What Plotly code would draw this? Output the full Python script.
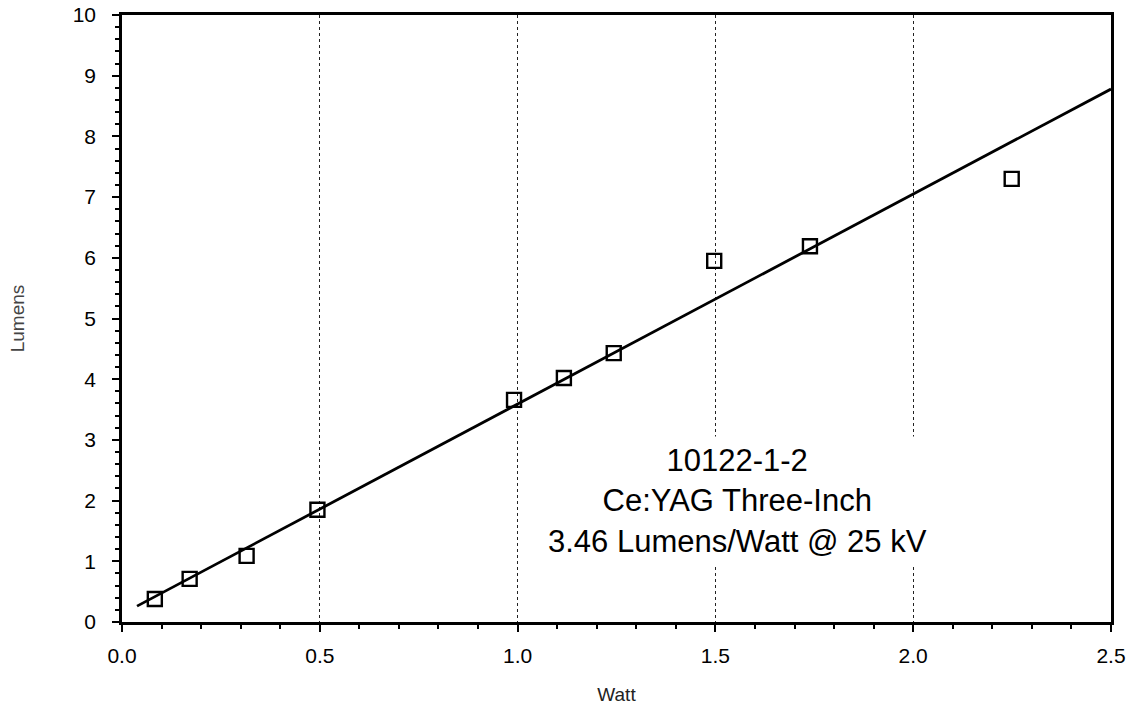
import plotly.graph_objects as go

# Measured light output versus input power
watts = [0.083, 0.171, 0.315, 0.494, 0.991, 1.117, 1.243, 1.497, 1.739, 2.249]
lumens = [0.38, 0.71, 1.09, 1.85, 3.66, 4.02, 4.43, 5.95, 6.19, 7.30]

# Linear fit: slope in lumens per watt
fit_slope = 3.46
fit_intercept = 0.13
fit_x = [0.038, 2.5]
fit_y = [fit_intercept + fit_slope * x for x in fit_x]

x_ticks = [0.0, 0.5, 1.0, 1.5, 2.0, 2.5]
y_ticks = list(range(0, 11))

font_family = "Liberation Sans, Arial, Helvetica, sans-serif"

fig = go.Figure()

fig.add_trace(go.Scatter(
    x=fit_x, y=fit_y, mode="lines",
    line=dict(color="black", width=2.8),
    showlegend=False, hoverinfo="skip",
))

fig.add_trace(go.Scatter(
    x=watts, y=lumens, mode="markers",
    marker=dict(symbol="square-open", size=14, color="black",
                line=dict(color="black", width=2.4)),
    showlegend=False,
))

fig.add_annotation(
    x=1.555, y=2.0, xref="x", yref="y",
    text="10122-1-2<br>Ce:YAG Three-Inch<br>3.46 Lumens/Watt @ 25 kV",
    showarrow=False, align="center",
    font=dict(family=font_family, size=31, color="black"),
    bgcolor="white", borderpad=6,
)

fig.update_layout(
    width=1131, height=714,
    margin=dict(l=122, r=20, t=15, b=92, autoexpand=False),
    paper_bgcolor="white", plot_bgcolor="white",
    font=dict(family=font_family, color="black"),
    xaxis=dict(
        range=[0, 2.5], tickvals=x_ticks, tickformat=".1f",
        ticks="outside", ticklen=7, tickwidth=1.5, tickcolor="black",
        minor=dict(dtick=0.1, ticks="outside", ticklen=4, tickcolor="black", showgrid=False),
        showline=True, linecolor="black", linewidth=2.5, mirror=True,
        showgrid=True, gridcolor="#222222", gridwidth=1, griddash="dot",
        zeroline=False, automargin=False,
        tickfont=dict(size=21, color="black"),
        ticklabelstandoff=6,
        title=dict(text="Watt", font=dict(size=19, color="#222222"), standoff=22),
    ),
    yaxis=dict(
        range=[0, 10], tickvals=y_ticks,
        ticks="outside", ticklen=7, tickwidth=1.5, tickcolor="black",
        minor=dict(dtick=0.2, ticks="outside", ticklen=4, tickcolor="black", showgrid=False),
        showline=True, linecolor="black", linewidth=2.5, mirror=True,
        showgrid=False, zeroline=False, automargin=False,
        tickfont=dict(size=21, color="black"),
        ticklabelstandoff=12,
        title=dict(text="Lumens", font=dict(size=19, color="#444444"), standoff=44),
    ),
)

fig.write_html("out.html")
